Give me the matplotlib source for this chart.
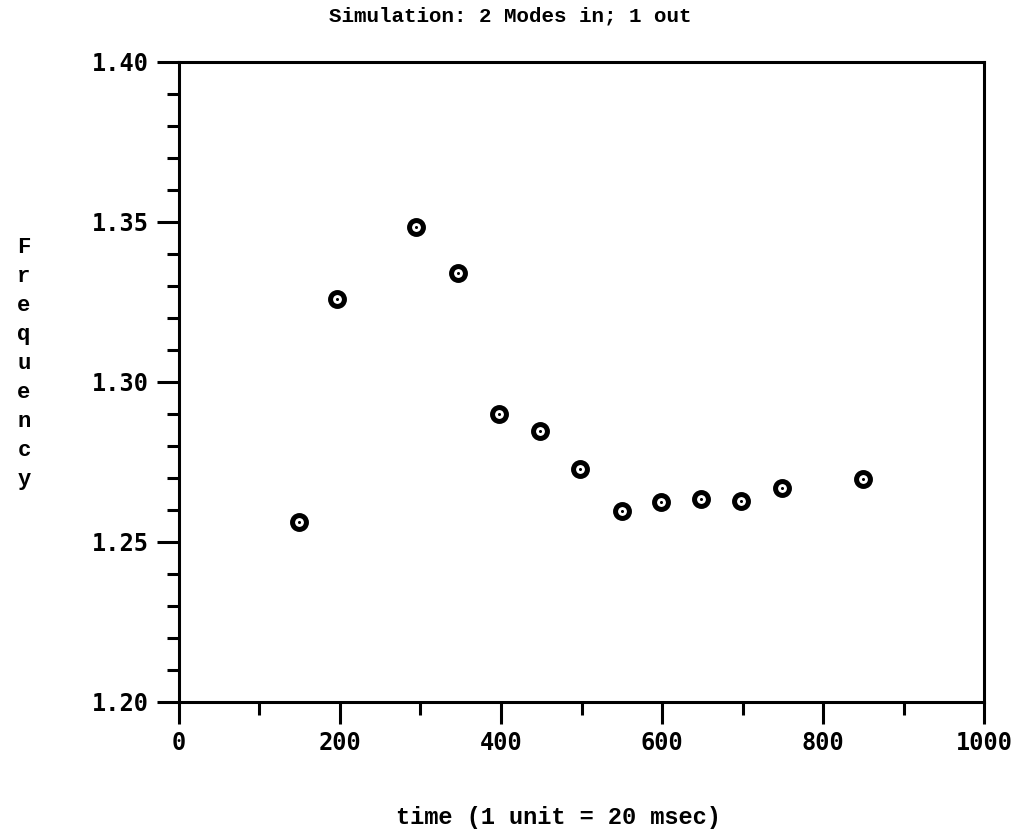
import matplotlib
matplotlib.use("Agg")
import matplotlib.pyplot as plt
from matplotlib.ticker import MultipleLocator

# Data
time = [149, 196, 294, 346, 398, 449, 498, 550, 599, 649, 698, 749, 850]
frequency = [1.2561, 1.3258, 1.3484, 1.3340, 1.2898, 1.2847, 1.2726,
             1.2596, 1.2625, 1.2633, 1.2627, 1.2667, 1.2695]

title_text = "Simulation: 2 Modes in; 1 out"
xlabel_text = "time (1 unit = 20 msec)"
ylabel_text = "Frequency"
x_ticks = [0, 200, 400, 600, 800, 1000]
y_ticks = [1.20, 1.25, 1.30, 1.35, 1.40]

fig = plt.figure(figsize=(10.21, 8.38), dpi=100)
ax = fig.add_axes([0.1753, 0.1627, 0.9638 - 0.1753, 0.9264 - 0.1627])

ax.plot(time, frequency, linestyle="none", marker="o", markersize=10,
        markerfacecolor="white", markeredgecolor="black", markeredgewidth=3.6)
ax.plot(time, frequency, linestyle="none", marker="o", markersize=2.2,
        markerfacecolor="black", markeredgecolor="black", markeredgewidth=0)

ax.set_xlim(0, 1000)
ax.set_ylim(1.20, 1.40)
ax.set_xticks(x_ticks)
ax.set_yticks(y_ticks)
ax.set_xticklabels([str(v) for v in x_ticks])
ax.set_yticklabels([f"{v:.2f}" for v in y_ticks])
ax.xaxis.set_minor_locator(MultipleLocator(100))
ax.yaxis.set_minor_locator(MultipleLocator(0.01))

for s in ax.spines.values():
    s.set_linewidth(2.2)
    s.set_color("black")

ax.tick_params(axis="both", which="major", direction="out", length=16,
               width=2.2)
ax.tick_params(axis="x", which="major", pad=5)
ax.tick_params(axis="y", which="major", pad=6)
ax.tick_params(axis="both", which="minor", direction="out", length=9,
               width=2.2)
ax.tick_params(top=False, right=False, which="both")

for lab in ax.get_xticklabels() + ax.get_yticklabels():
    lab.set_fontfamily("DejaVu Sans Mono")
    lab.set_fontweight("bold")
    lab.set_fontsize(17)

fig.text(0.5, 0.981, title_text, ha="center", va="center",
         family="Liberation Mono", weight="bold", fontsize=15)
fig.text(0.388, 0.024, xlabel_text, ha="left", va="center",
         family="Liberation Mono", weight="bold", fontsize=17)
fig.text(0.0235, 0.566, "\n".join(ylabel_text), ha="center", va="center",
         family="Liberation Mono", weight="bold", fontsize=16,
         linespacing=1.5)

fig.savefig("out.png", dpi=100)
